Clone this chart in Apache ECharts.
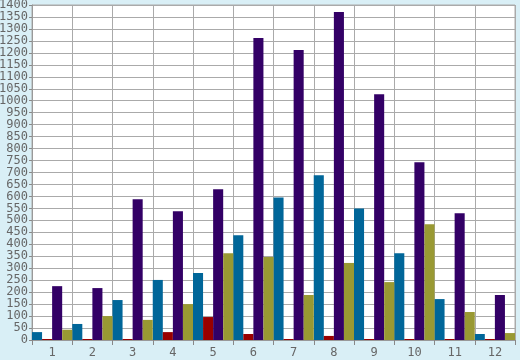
<!DOCTYPE html>
<html><head><meta charset="utf-8">
<script src="https://cdn.jsdelivr.net/npm/echarts@6/dist/echarts.min.js"></script>
<style>html,body{margin:0;padding:0;background:#d9eff6;}#c{width:520px;height:360px;}</style>
</head><body><div id="c"></div>
<script>
const categories = ['1','2','3','4','5','6','7','8','9','10','11','12'];
const seriesTeal   = [33, 67, 167, 251, 280, 438, 596, 688, 550, 363, 171, 25];
const seriesRed    = [4, 4, 4, 33, 96, 25, 4, 17, 4, 4, 4, 4];
const seriesPurple = [225, 217, 588, 538, 630, 1262, 1212, 1371, 1027, 743, 530, 188];
const seriesOlive  = [43, 100, 84, 150, 363, 347, 188, 322, 242, 484, 117, 29];
const yMin = 0, yMax = 1400, yStep = 50;

const chart = echarts.init(document.getElementById('c'), null, {renderer:'canvas'});
const font = 'DejaVu Sans Mono';
function bar(name, data, color){
  return {name, type:'bar', data, itemStyle:{color}, barGap:'0%', barCategoryGap:'0%', barMinHeight:1, animation:false};
}
chart.setOption({
  animation:false,
  backgroundColor:'#d9eff6',
  grid:{left:32, right:5, top:5, bottom:20, containLabel:false, outerBoundsMode:'none',
        show:true, backgroundColor:'#ffffff', borderColor:'#aaaaaa', borderWidth:1},
  xAxis:{type:'category', data:categories, boundaryGap:true,
    axisLine:{lineStyle:{color:'#999999'}},
    axisTick:{show:true, length:5, lineStyle:{color:'#888888'}},
    splitLine:{show:true, lineStyle:{color:'#aaaaaa', width:1}},
    axisLabel:{interval:0, color:'#666666', fontFamily:font, fontSize:12, margin:7}},
  yAxis:{type:'value', min:yMin, max:yMax, interval:yStep,
    axisLine:{show:true, lineStyle:{color:'#999999'}},
    axisTick:{show:true, length:3, lineStyle:{color:'#888888'}},
    splitLine:{show:true, lineStyle:{color:'#aaaaaa', width:1}},
    axisLabel:{color:'#666666', fontFamily:font, fontSize:12, margin:4, formatter:v => String(v)}},
  series:[
    bar('A', seriesTeal, '#006699'),
    bar('B', seriesRed, '#990000'),
    bar('C', seriesPurple, '#330066'),
    bar('D', seriesOlive, '#999933')
  ]
});
</script></body></html>
